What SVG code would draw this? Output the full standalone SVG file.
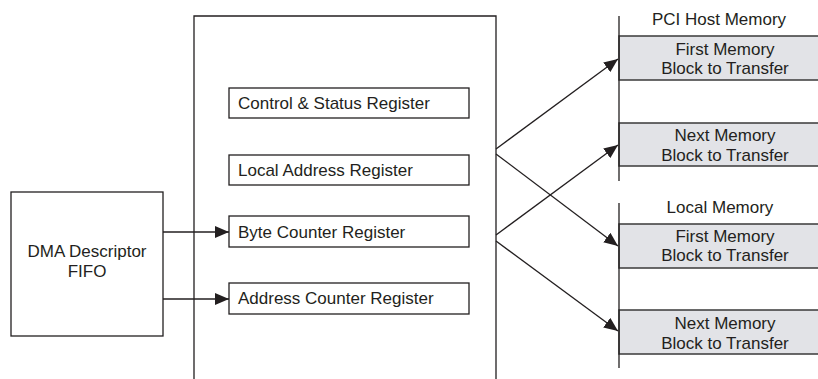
<svg xmlns="http://www.w3.org/2000/svg" width="818" height="379" viewBox="0 0 818 379">
<defs>
<style>
text{font-family:"Liberation Sans",Arial,sans-serif;font-size:17px;fill:#231f20}
.box{fill:#fff;stroke:#231f20;stroke-width:1.3}
.blk{fill:#e2e3e7;stroke:#3a3a3a;stroke-width:1.5}
.ln{fill:none;stroke:#231f20;stroke-width:1.3}
.c{text-anchor:middle}
</style>
<marker id="ah" markerUnits="userSpaceOnUse" markerWidth="15" markerHeight="13" refX="14" refY="6" orient="auto">
<path d="M0,0 L14,6 L0,12 z" fill="#231f20"/>
</marker>
</defs>
<rect width="818" height="379" fill="#fff"/>
<g id="dma-controller">
<path class="ln" d="M194,379 V16 H496 V379"/>
</g>
<g id="dma-fifo">
<rect class="box" x="11" y="192" width="152" height="144"/>
<text class="c" x="87" y="257">DMA Descriptor</text>
<text class="c" x="87" y="277">FIFO</text>
</g>
<g id="ctrl-status">
<rect class="box" x="229" y="88" width="240" height="30"/>
<text x="238" y="109">Control &amp; Status Register</text>
</g>
<g id="local-addr">
<rect class="box" x="229" y="155" width="240" height="30"/>
<text x="238" y="176">Local Address Register</text>
</g>
<g id="byte-counter">
<rect class="box" x="229" y="216" width="240" height="31"/>
<text x="238" y="238">Byte Counter Register</text>
</g>
<g id="addr-counter">
<rect class="box" x="229" y="283" width="240" height="31"/>
<text x="238" y="304">Address Counter Register</text>
</g>
<g id="pci-host-memory">
<text class="c" x="719" y="25">PCI Host Memory</text>
<rect class="blk" x="619" y="36" width="220" height="44"/>
<text class="c" x="725" y="55">First Memory</text>
<text class="c" x="725" y="74">Block to Transfer</text>
<rect class="blk" x="619" y="123" width="220" height="43"/>
<text class="c" x="725" y="141">Next Memory</text>
<text class="c" x="725" y="161">Block to Transfer</text>
<line class="ln" x1="619" y1="16" x2="619" y2="181"/>
</g>
<g id="local-memory">
<text class="c" x="720" y="213">Local Memory</text>
<rect class="blk" x="619" y="224" width="220" height="44"/>
<text class="c" x="725" y="242">First Memory</text>
<text class="c" x="725" y="261">Block to Transfer</text>
<rect class="blk" x="619" y="310" width="220" height="44"/>
<text class="c" x="725" y="329">Next Memory</text>
<text class="c" x="725" y="349">Block to Transfer</text>
<line class="ln" x1="619" y1="203" x2="619" y2="368"/>
</g>
<g id="connectors">
<line class="ln" x1="163" y1="232" x2="229" y2="232" marker-end="url(#ah)"/>
<line class="ln" x1="163" y1="299" x2="229" y2="299" marker-end="url(#ah)"/>
<line class="ln" x1="496" y1="149" x2="618" y2="59" marker-end="url(#ah)"/>
<line class="ln" x1="496" y1="154" x2="618" y2="246" marker-end="url(#ah)"/>
<line class="ln" x1="496" y1="235" x2="618" y2="145" marker-end="url(#ah)"/>
<line class="ln" x1="496" y1="241" x2="618" y2="331" marker-end="url(#ah)"/>
</g>
</svg>
